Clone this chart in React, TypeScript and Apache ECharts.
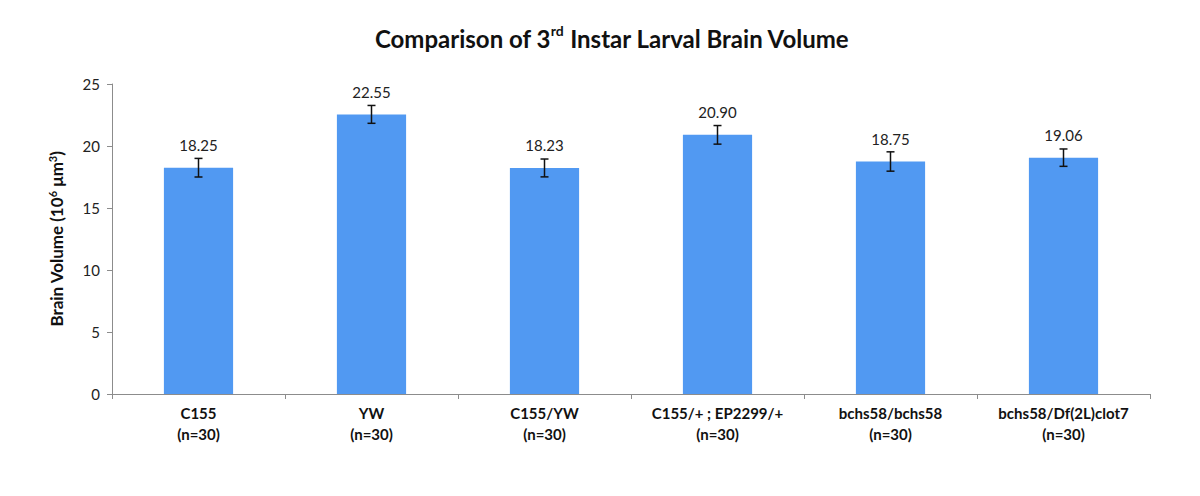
import React, { useEffect, useRef } from "react";
import * as echarts from "echarts";

const categories = [
  "C155\n(n=30)",
  "YW\n(n=30)",
  "C155/YW\n(n=30)",
  "C155/+ ; EP2299/+\n(n=30)",
  "bchs58/bchs58\n(n=30)",
  "bchs58/Df(2L)clot7\n(n=30)",
];
const values = [18.25, 22.55, 18.23, 20.9, 18.75, 19.06];
const errors = [0.75, 0.72, 0.72, 0.75, 0.78, 0.7];
const yTicks = [0, 5, 10, 15, 20, 25];

export default function App() {
  const ref = useRef<HTMLDivElement>(null);
  useEffect(() => {
    if (!ref.current) return;
    const chart = echarts.init(ref.current, undefined, { renderer: "svg" });
    const font = "Lato, 'Open Sans', sans-serif";
    chart.setOption({
      animation: false,
      textStyle: { fontFamily: font },
      title: {
        text: "{t|Comparison of 3}{s|rd}{t| Instar Larval Brain Volume}",
        left: 607,
        top: 18,
        textAlign: "center",
        textStyle: {
          rich: {
            t: { fontSize: 24, fontWeight: "bold", color: "#111", fontFamily: font, lineHeight: 30 },
            s: { fontSize: 14, fontWeight: "bold", color: "#111", fontFamily: font, verticalAlign: "top", lineHeight: 30, padding: [0, 0, 10, 0] },
          },
        },
      },
      grid: { left: 112, right: 50, top: 84, bottom: 102 },
      xAxis: {
        type: "category",
        data: categories,
        axisLine: { lineStyle: { color: "#8c8c8c", width: 1 } },
        axisTick: { show: true, alignWithLabel: false, length: 5, lineStyle: { color: "#8c8c8c" } },
        axisLabel: {
          color: "#111",
          fontWeight: "bold",
          fontSize: 15,
          lineHeight: 21,
          margin: 8,
          fontFamily: font,
        },
      },
      yAxis: {
        type: "value",
        min: 0,
        max: 25,
        interval: 5,
        name: "{t|Brain Volume (10}{s|6}{t| μm}{s|3}{t|)}",
        nameLocation: "middle",
        nameGap: 47,
        nameRotate: 90,
        nameTextStyle: {
          rich: {
            t: { fontSize: 17, fontWeight: "bold", color: "#111", fontFamily: font },
            s: { fontSize: 11, fontWeight: "bold", color: "#111", fontFamily: font, verticalAlign: "top", padding: [0, 0, 7, 0] },
          },
        },
        axisLine: { show: true, lineStyle: { color: "#8c8c8c", width: 1 } },
        axisTick: { show: true, length: 5, lineStyle: { color: "#8c8c8c" } },
        splitLine: { show: false },
        axisLabel: {
          color: "#222",
          fontSize: 15,
          margin: 12,
          fontFamily: font,
          formatter: (v: number) => (yTicks.includes(v) ? String(v) : ""),
        },
      },
      series: [
        {
          type: "bar",
          data: values,
          barWidth: "40%",
          itemStyle: { color: "#5199f2" },
          label: {
            show: true,
            position: "top",
            distance: 15,
            color: "#222",
            fontSize: 15,
            fontFamily: font,
            formatter: (p: any) => values[p.dataIndex].toFixed(2),
          },
          z: 2,
        },
        {
          type: "custom",
          data: values.map((v, i) => [i, v - errors[i], v + errors[i]]),
          z: 5,
          renderItem: (params: any, api: any) => {
            const x = api.value(0);
            const lo = api.coord([x, api.value(1)]);
            const hi = api.coord([x, api.value(2)]);
            const w = 4;
            const style = { stroke: "#111", lineWidth: 1.5 };
            return {
              type: "group",
              children: [
                { type: "line", shape: { x1: lo[0], y1: lo[1], x2: hi[0], y2: hi[1] }, style },
                { type: "line", shape: { x1: hi[0] - w, y1: hi[1], x2: hi[0] + w, y2: hi[1] }, style },
                { type: "line", shape: { x1: lo[0] - w, y1: lo[1], x2: lo[0] + w, y2: lo[1] }, style },
              ],
            };
          },
          encode: { x: 0, y: [1, 2] },
        },
      ],
    });
    return () => chart.dispose();
  }, []);
  return <div ref={ref} style={{ width: 1200, height: 496, position: "absolute", left: 0, top: 0 }} />;
}
